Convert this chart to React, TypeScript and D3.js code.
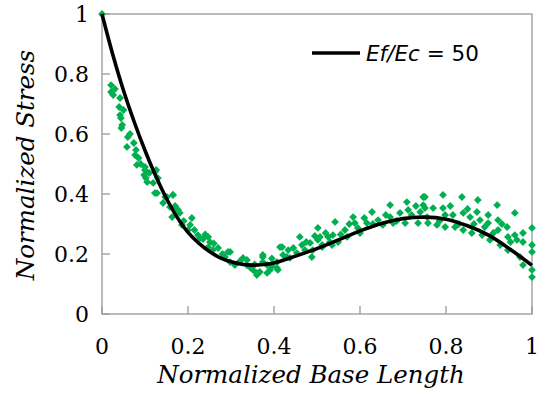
import React from "react";
import * as d3 from "d3";

const curveX = [0, 0.025, 0.05, 0.075, 0.1, 0.125, 0.15, 0.175, 0.2, 0.225, 0.25, 0.275, 0.3, 0.325, 0.35, 0.375, 0.4, 0.45, 0.5, 0.55, 0.6, 0.65, 0.7, 0.75, 0.8, 0.85, 0.9, 0.95, 1.0];
const curveY = [1.0, 0.865, 0.745, 0.64, 0.545, 0.46, 0.385, 0.322, 0.272, 0.236, 0.208, 0.187, 0.174, 0.166, 0.163, 0.165, 0.17, 0.193, 0.218, 0.247, 0.277, 0.302, 0.318, 0.323, 0.316, 0.294, 0.262, 0.215, 0.162];

const scatterX = [
  0, 0.021, 0.021, 0.026, 0.042, 0.04, 0.042, 0.044, 0.047, 0.045, 0.06, 0.058, 0.074, 0.079, 0.077, 0.081, 0.1, 0.102, 0.126, 0.13, 0.123, 0.147, 0.165,
  0.1, 0.098, 0.105, 0.123, 0.119, 0.128, 0.142, 0.151, 0.165, 0.158, 0.177, 0.181, 0.163, 0.186, 0.209, 0.205, 0.2, 0.223, 0.228, 0.247, 0.251, 0.247, 0.258, 0.27, 0.293, 0.286, 0.298,
  0.298, 0.309, 0.328, 0.337, 0.351, 0.36, 0.367, 0.374, 0.374, 0.384, 0.391, 0.407, 0.409, 0.414, 0.421, 0.433, 0.437, 0.453, 0.46, 0.465, 0.472, 0.488, 0.484, 0.49, 0.502, 0.502, 0.512, 0.526,
  0.337, 0.36, 0.374, 0.384, 0.407, 0.419,
  0.507, 0.512, 0.542, 0.537, 0.549, 0.535, 0.565, 0.57, 0.584, 0.588, 0.595, 0.616, 0.628, 0.642, 0.653, 0.67, 0.67, 0.677, 0.693, 0.705, 0.709, 0.712, 0.735, 0.747, 0.747, 0.756, 0.758,
  0.751, 0.751, 0.77, 0.779, 0.793, 0.793, 0.798, 0.798, 0.816, 0.821, 0.837, 0.84, 0.84, 0.856, 0.86, 0.872, 0.874, 0.879, 0.884, 0.898, 0.898, 0.902, 0.919, 0.921, 0.921, 0.926, 0.942, 0.944, 0.944, 0.96, 0.96, 0.965, 0.972, 0.979, 0.979, 0.979, 1.0, 1.0, 1.0, 1.0, 1.0,
  0.03, 0.05, 0.065, 0.085, 0.09, 0.11,
  0.17, 0.19, 0.215, 0.235, 0.26, 0.28, 0.24,
  0.32, 0.345, 0.355, 0.395, 0.43, 0.445, 0.395,
  0.475, 0.495, 0.52, 0.53, 0.555, 0.575, 0.6, 0.61,
  0.63, 0.66, 0.685, 0.72, 0.73, 0.74,
  0.785, 0.81, 0.83, 0.85, 0.865, 0.89, 0.91, 0.93, 0.95
];
const scatterY = [
  1.0, 0.763, 0.74, 0.73, 0.72, 0.69, 0.663, 0.653, 0.63, 0.62, 0.59, 0.557, 0.57, 0.547, 0.53, 0.497, 0.48, 0.453, 0.48, 0.453, 0.403, 0.39, 0.397,
  0.49, 0.463, 0.44, 0.473, 0.437, 0.403, 0.37, 0.39, 0.397, 0.357, 0.347, 0.337, 0.323, 0.297, 0.32, 0.297, 0.28, 0.263, 0.253, 0.257, 0.24, 0.223, 0.213, 0.22, 0.207, 0.19, 0.173,
  0.207, 0.163, 0.187, 0.163, 0.147, 0.13, 0.14, 0.197, 0.173, 0.163, 0.147, 0.173, 0.147, 0.223, 0.197, 0.213, 0.187, 0.203, 0.257, 0.23, 0.213, 0.19, 0.237, 0.213, 0.287, 0.247, 0.23, 0.257,
  0.18, 0.137, 0.19, 0.137, 0.153, 0.223,
  0.257, 0.223, 0.307, 0.263, 0.24, 0.23, 0.28, 0.257, 0.323, 0.303, 0.287, 0.303, 0.34, 0.313, 0.297, 0.363, 0.323, 0.303, 0.337, 0.303, 0.373, 0.347, 0.303, 0.39, 0.363, 0.323, 0.303,
  0.39, 0.353, 0.353, 0.297, 0.397, 0.353, 0.33, 0.29, 0.33, 0.29, 0.39, 0.337, 0.28, 0.323, 0.27, 0.34, 0.38, 0.313, 0.263, 0.33, 0.303, 0.247, 0.363, 0.313, 0.28, 0.23, 0.29, 0.257, 0.213, 0.337, 0.263, 0.247, 0.19, 0.27, 0.24, 0.163, 0.287, 0.23, 0.207, 0.147, 0.123,
  0.75, 0.68, 0.6, 0.52, 0.5, 0.47,
  0.36, 0.31, 0.28, 0.25, 0.235, 0.2, 0.265,
  0.175, 0.155, 0.165, 0.16, 0.19, 0.22, 0.185,
  0.24, 0.26, 0.27, 0.24, 0.265, 0.3, 0.27, 0.32,
  0.3, 0.33, 0.31, 0.33, 0.36, 0.34,
  0.31, 0.36, 0.3, 0.35, 0.3, 0.29, 0.27, 0.3, 0.24
];

const xTicks = [0, 0.2, 0.4, 0.6, 0.8, 1];
const yTicks = [0, 0.2, 0.4, 0.6, 0.8, 1];
const xTickLabels = ["0", "0.2", "0.4", "0.6", "0.8", "1"];
const yTickLabels = ["0", "0.2", "0.4", "0.6", "0.8", "1"];
const legendLabel = ["Ef/Ec", " = 50"];

const W = 537, H = 394;
const L = 102, R = 532, T = 14, B = 314;

export default function App() {
  const x = d3.scaleLinear().domain([0, 1]).range([L, R]);
  const y = d3.scaleLinear().domain([0, 1]).range([B, T]);
  const line = d3.line<number>().x((_, i) => x(curveX[i])).y((d) => y(d)).curve(d3.curveCatmullRom);
  const serif = "'DejaVu Serif', serif";
  const s = 3.9;
  const diamond = `M0,${-s}L${s},0L0,${s}L${-s},0Z`;
  return (
    <svg width={W} height={H} style={{ position: "absolute", left: 0, top: 0, background: "#fff" }}>
      <rect x={L} y={T} width={R - L} height={B - T} fill="none" stroke="#999" strokeWidth={1.3} />
      {yTicks.map((t, i) => (
        <g key={"y" + i}>
          <line x1={L} x2={L + 8} y1={y(t)} y2={y(t)} stroke="#999" strokeWidth={1.3} />
          <text x={89} y={y(t) + 8} textAnchor="end" fontFamily={serif} fontSize={22} fill="#000">{yTickLabels[i]}</text>
        </g>
      ))}
      {xTicks.map((t, i) => (
        <g key={"x" + i}>
          <line x1={x(t)} x2={x(t)} y1={B} y2={B - 8} stroke="#999" strokeWidth={1.3} />
          <text x={x(t)} y={354} textAnchor="middle" fontFamily={serif} fontSize={22} fill="#000">{xTickLabels[i]}</text>
        </g>
      ))}
      {scatterX.map((v, i) => (
        <path key={"p" + i} d={diamond} transform={`translate(${x(v)},${y(scatterY[i])})`} fill="#00B050" />
      ))}
      <path d={line(curveY) || ""} fill="none" stroke="#000" strokeWidth={3.6} />
      <text x={311} y={383} textAnchor="middle" fontFamily={serif} fontStyle="italic" fontSize={24.5} fill="#000">Normalized Base Length</text>
      <text transform={`translate(34,165) rotate(-90)`} textAnchor="middle" fontFamily={serif} fontStyle="italic" fontSize={24.5} fill="#000">Normalized Stress</text>
      <line x1={312} x2={360} y1={53} y2={53} stroke="#000" strokeWidth={3.6} />
      <text x={366} y={61} fontFamily="'DejaVu Sans', sans-serif" fontSize={21.5} fill="#000">
        <tspan fontStyle="italic">{legendLabel[0]}</tspan>
        <tspan>{legendLabel[1]}</tspan>
      </text>
    </svg>
  );
}
